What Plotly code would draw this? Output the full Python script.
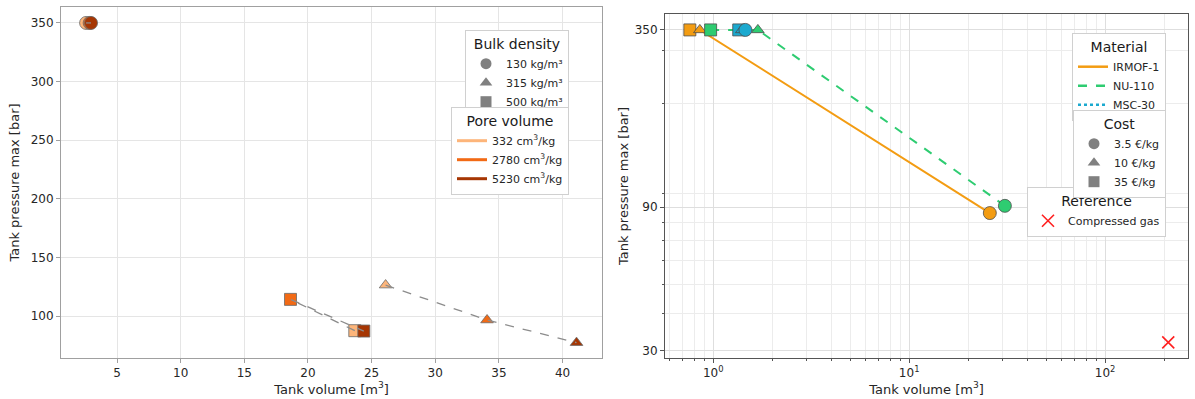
import plotly.graph_objects as go

# ---- Left panel: bulk density (marker shape) x pore volume (colour) ----
pore_volumes = [332, 2780, 5230]                 # cm3/kg
pore_colors = ["#fdb57a", "#f26a15", "#a63603"]
bulk_densities = [130, 315, 500]                 # kg/m3
bulk_symbols = ["circle", "triangle-up", "square"]

# tank volume [m3] and max pressure [bar], ordered by pore volume
circle_volume = [2.57, 2.85, 2.96]
circle_pressure = [350, 350, 350]
triangle_volume = [26.1, 34.07, 41.1]
triangle_pressure = [126.4, 96.6, 77.3]
square_volume = [23.68, 18.63, 24.39]
square_pressure = [87.5, 114.2, 87.2]

# ---- Right panel: materials x cost ----
materials = ["IRMOF-1", "NU-110", "MSC-30"]
material_colors = ["#f39c12", "#2ecc71", "#1ba9cf"]
material_dash = ["solid", "dash", "dot"]
costs = ["3.5 €/kg", "10 €/kg", "35 €/kg"]
cost_symbols = ["circle", "triangle-up", "square"]

# ordered by cost: 3.5, 10, 35 €/kg
irmof_volume = [25.8, 0.855, 0.76]
irmof_pressure = [86.1, 350, 350]
nu110_volume = [30.8, 1.69, 0.97]
nu110_pressure = [91, 350, 350]
msc30_volume = [1.46, 1.40, 1.35]
msc30_pressure = [350, 350, 350]

gas_volume = [210]
gas_pressure = [32]

W, H = 1195, 399
FONT = "DejaVu Sans"
EDGE = "#4d4d4d"

fig = go.Figure()

# left panel markers
left_groups = [
    (circle_volume, circle_pressure, 13),
    (triangle_volume, triangle_pressure, 11),
    (square_volume, square_pressure, 12),
]
for (vols, press, size), sym in zip(left_groups, bulk_symbols):
    for v, p, c in zip(vols, press, pore_colors):
        fig.add_trace(go.Scatter(
            x=[v], y=[p], mode="markers", showlegend=False,
            marker=dict(symbol=sym, size=size, color=c,
                        line=dict(color="#6a6a6a", width=0.8)),
            xaxis="x", yaxis="y"))
# dashed connectors inside each bulk-density group
for vols, press, _ in left_groups:
    fig.add_trace(go.Scatter(
        x=vols, y=press, mode="lines", showlegend=False,
        line=dict(color="#8c8c8c", width=1.3, dash="dash"),
        xaxis="x", yaxis="y"))

# left legends
for d, sym in zip(bulk_densities, bulk_symbols):
    fig.add_trace(go.Scatter(
        x=[None], y=[None], mode="markers", name=f"{d} kg/m³",
        marker=dict(symbol=sym, size=11, color="#808080"),
        legend="legend", xaxis="x", yaxis="y"))
for pv, c in zip(pore_volumes, pore_colors):
    fig.add_trace(go.Scatter(
        x=[None], y=[None], mode="lines", name=f"{pv} cm<sup>3</sup>/kg",
        line=dict(color=c, width=3),
        legend="legend2", xaxis="x", yaxis="y"))

# right panel
right_sets = [
    (irmof_volume, irmof_pressure),
    (nu110_volume, nu110_pressure),
    (msc30_volume, msc30_pressure),
]
for (vols, press), c, dsh in zip(right_sets, material_colors, material_dash):
    fig.add_trace(go.Scatter(
        x=vols, y=press, mode="lines", showlegend=False,
        line=dict(color=c, width=2, dash=dsh),
        xaxis="x2", yaxis="y2"))
marker_sizes = [13, 11, 12]
for (vols, press), c in zip(right_sets, material_colors):
    for i in [2, 1, 0]:
        fig.add_trace(go.Scatter(
            x=[vols[i]], y=[press[i]], mode="markers", showlegend=False,
            marker=dict(symbol=cost_symbols[i], size=marker_sizes[i], color=c,
                        line=dict(color=EDGE, width=0.8)),
            xaxis="x2", yaxis="y2"))
fig.add_trace(go.Scatter(
    x=gas_volume, y=gas_pressure, mode="markers", name="Compressed gas",
    marker=dict(symbol="x-thin", size=12, color="#ff2020",
                line=dict(color="#ff2020", width=1.6)),
    legend="legend5", xaxis="x2", yaxis="y2"))

# right legends
for m, c, dsh in zip(materials, material_colors, material_dash):
    fig.add_trace(go.Scatter(
        x=[None], y=[None], mode="lines", name=m,
        line=dict(color=c, width=2.5, dash=dsh),
        legend="legend3", xaxis="x2", yaxis="y2"))
for lab, sym in zip(costs, cost_symbols):
    fig.add_trace(go.Scatter(
        x=[None], y=[None], mode="markers", name=lab,
        marker=dict(symbol=sym, size=11, color="#808080"),
        legend="legend4", xaxis="x2", yaxis="y2"))

tickfont = dict(family=FONT, size=12, color="#262626")
titlefont = dict(family=FONT, size=13, color="#262626")


def legend_box(title, x, y_px):
    return dict(
        title=dict(text=title, side="top center",
                   font=dict(family=FONT, size=14, color="#1a1a1a")),
        font=dict(family=FONT, size=11, color="#262626"),
        x=x, y=1 - y_px / H, xanchor="right", yanchor="top",
        bgcolor="white", bordercolor="#d0d0d0",
        borderwidth=1, tracegroupgap=0, itemwidth=30,
    )


minor_x = [0.6, 0.7, 0.8, 0.9, 2, 3, 4, 5, 6, 7, 8, 9,
           20, 30, 40, 50, 60, 70, 80, 90, 200]
minor_y = [40, 50, 60, 70, 80, 100, 200, 300]

fig.update_layout(
    width=W, height=H, template="none",
    margin=dict(l=0, r=0, t=0, b=0),
    paper_bgcolor="white", plot_bgcolor="white",
    font=dict(family=FONT),
    xaxis=dict(
        domain=[61 / W, 602 / W], range=[0.6, 43.1],
        tickvals=[5, 10, 15, 20, 25, 30, 35, 40],
        showgrid=True, gridcolor="#e5e5e5", gridwidth=1, zeroline=False,
        showline=True, mirror=True, linecolor="#a0a0a0", linewidth=1,
        ticks="outside", ticklen=4, tickcolor="#a0a0a0",
        tickfont=tickfont, anchor="y", automargin=False,
        title=dict(text="Tank volume [m<sup>3</sup>]", font=titlefont, standoff=0),
    ),
    yaxis=dict(
        domain=[1 - 358 / H, 1 - 7 / H], range=[64.2, 363.6],
        tickvals=[100, 150, 200, 250, 300, 350],
        showgrid=True, gridcolor="#e5e5e5", gridwidth=1, zeroline=False,
        showline=True, mirror=True, linecolor="#a0a0a0", linewidth=1,
        ticks="outside", ticklen=4, tickcolor="#a0a0a0",
        tickfont=tickfont, anchor="x", automargin=False,
        title=dict(text="Tank pressure max [bar]", font=titlefont, standoff=8),
    ),
    xaxis2=dict(
        domain=[665 / W, 1188 / W], type="log", range=[-0.246, 2.423],
        tickvals=[1, 10, 100],
        ticktext=["10<sup>0</sup>", "10<sup>1</sup>", "10<sup>2</sup>"],
        showgrid=True, gridcolor="#dedede", gridwidth=1, zeroline=False,
        showline=True, mirror=True, linecolor="#555555", linewidth=1,
        ticks="outside", ticklen=4, tickcolor="#555555",
        minor=dict(tickvals=minor_x, ticks="outside", ticklen=2,
                   tickcolor="#555555", showgrid=True,
                   gridcolor="#ececec", gridwidth=1),
        tickfont=tickfont, anchor="y2", automargin=False,
        title=dict(text="Tank volume [m<sup>3</sup>]", font=titlefont, standoff=2),
    ),
    yaxis2=dict(
        domain=[1 - 358 / H, 1 - 14 / H], type="log", range=[1.453, 2.597],
        tickvals=[30, 90, 350], ticktext=["30", "90", "350"],
        showgrid=True, gridcolor="#dedede", gridwidth=1, zeroline=False,
        showline=True, mirror=True, linecolor="#555555", linewidth=1,
        ticks="outside", ticklen=4, tickcolor="#555555",
        minor=dict(tickvals=minor_y, ticks="outside", ticklen=2,
                   tickcolor="#555555", showgrid=True,
                   gridcolor="#ececec", gridwidth=1),
        tickfont=tickfont, anchor="x2", automargin=False,
        title=dict(text="Tank pressure max [bar]", font=titlefont, standoff=3),
    ),
    legend=legend_box("Bulk density", 569 / W, 30),
    legend2=legend_box("Pore volume", 569 / W, 107),
    legend3=legend_box("Material", 1166 / W, 33),
    legend4=legend_box("Cost", 1166 / W, 110),
    legend5=legend_box("Reference", 1166 / W, 187),
)

fig.write_html("out.html")
